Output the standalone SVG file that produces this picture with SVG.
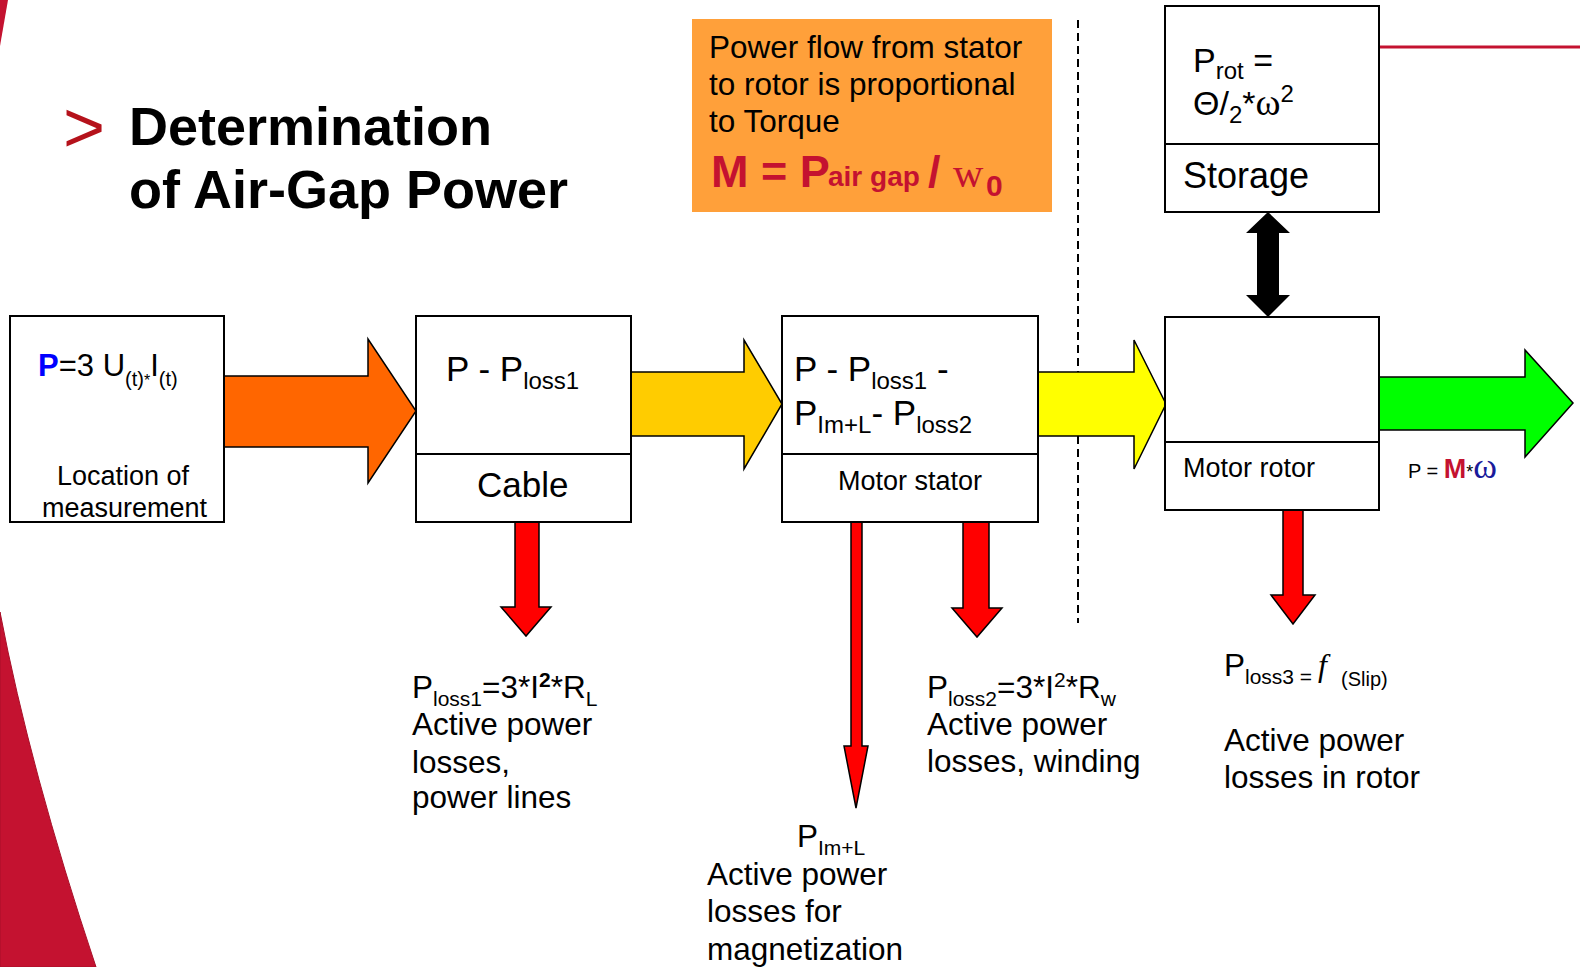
<svg xmlns="http://www.w3.org/2000/svg" width="1580" height="967" viewBox="0 0 1580 967">
<style>
text{font-family:"Liberation Sans",Arial,sans-serif;fill:#000}
.b{font-weight:bold}
.serif{font-family:"Liberation Serif","Times New Roman",serif}
.box{fill:#fff;stroke:#000;stroke-width:2}
.div{stroke:#000;stroke-width:2}
.arr{stroke:#000;stroke-width:1.5;stroke-linejoin:miter}
.red{fill:#FF0000}
.crim{fill:#C41230}
</style>
<rect width="1580" height="967" fill="#fff"/>
<!-- decorative swooshes -->
<path d="M0,0 L8,0 L0,46 Z" fill="#C41230"/>
<path d="M0,612 Q30,770 96,967 L0,967 Z" fill="#C41230" stroke="#A80F28" stroke-width="1"/>
<line x1="1379" y1="47" x2="1580" y2="47" stroke="#C41230" stroke-width="3"/>

<!-- title -->
<g id="title">
<text x="63" y="152" font-size="72" style="fill:#B5121B">&gt;</text>
<text class="b" x="129" y="145" font-size="54">Determination</text>
<text class="b" x="129" y="208" font-size="54">of Air-Gap Power</text>
</g>

<!-- orange note -->
<g id="note">
<rect x="692" y="19" width="360" height="193" fill="#FFA03A"/>
<text x="709" y="58" font-size="31.5">Power flow from stator</text>
<text x="709" y="95" font-size="31.5">to rotor is proportional</text>
<text x="709" y="132" font-size="31.5">to Torque</text>
<text class="b crim" x="711" y="187" font-size="45">M = P</text>
<text class="b crim" x="828" y="186" font-size="28">air gap</text>
<text class="b crim" x="928" y="187" font-size="45">/</text>
<text class="serif crim" x="953" y="187" font-size="42">w</text>
<text class="b crim" x="986" y="196" font-size="30">0</text>
</g>

<!-- dashed separator -->
<line x1="1078" y1="20" x2="1078" y2="623" stroke="#000" stroke-width="2" stroke-dasharray="8 5"/>

<!-- connectors -->
<g id="connectors">
<polygon class="arr" fill="#FF6600" points="224,376 368,376 368,339 416,411 368,483 368,447 224,447"/>
<polygon class="arr" fill="#FFCC00" points="631,372 744,372 744,340 782,404 744,469 744,436 631,436"/>
<polygon class="arr" fill="#FFFF00" points="1038,372 1134,372 1134,340 1166,404 1134,469 1134,436 1038,436"/>
<polygon class="arr" fill="#00FF00" points="1379,377 1525,377 1525,350 1573,403 1525,457 1525,430 1379,430"/>
<polygon class="arr red" points="515,522 539,522 539,607 551,607 526,636 501,607 515,607"/>
<polygon class="arr red" points="851,522 862,522 862,746 868,746 856,808 844,746 851,746"/>
<polygon class="arr red" points="963,522 989,522 989,608 1002,608 977,637 952,608 963,608"/>
<polygon class="arr red" points="1283,510 1303,510 1303,595 1315,595 1293,624 1271,595 1283,595"/>
<polygon fill="#000" points="1268,212 1290,233 1279,233 1279,295 1290,295 1268,317 1246,295 1257,295 1257,233 1246,233"/>
</g>

<!-- measurement -->
<g id="measurement">
<rect class="box" x="10" y="316" width="214" height="206"/>
<text x="38" y="376" font-size="31"><tspan class="b" style="fill:#0000FF">P</tspan>=3 U<tspan font-size="20" dy="10">(t)</tspan><tspan font-size="16">*</tspan><tspan dy="-10">I</tspan><tspan font-size="20" dy="10">(t)</tspan></text>
<text x="57" y="485" font-size="27">Location of</text>
<text x="42" y="517" font-size="27">measurement</text>
</g>

<!-- cable -->
<g id="cable">
<rect class="box" x="416" y="316" width="215" height="206"/>
<line class="div" x1="416" y1="454" x2="631" y2="454"/>
<text x="446" y="381" font-size="35">P - P<tspan font-size="24" dy="8">loss1</tspan></text>
<text x="477" y="497" font-size="35">Cable</text>
</g>

<!-- stator -->
<g id="stator">
<rect class="box" x="782" y="316" width="256" height="206"/>
<line class="div" x1="782" y1="454" x2="1038" y2="454"/>
<text x="794" y="381" font-size="35">P - P<tspan font-size="24" dy="8">loss1</tspan><tspan dy="-8"> -</tspan></text>
<text x="794" y="425" font-size="35">P<tspan font-size="24" dy="8">Im+L</tspan><tspan dy="-8">- P</tspan><tspan font-size="24" dy="8">loss2</tspan></text>
<text x="838" y="490" font-size="27">Motor stator</text>
</g>

<!-- storage -->
<g id="storage">
<rect class="box" x="1165" y="6" width="214" height="206"/>
<line class="div" x1="1165" y1="144" x2="1379" y2="144"/>
<text x="1193" y="72" font-size="34">P<tspan font-size="24" dy="7">rot</tspan><tspan dy="-7"> =</tspan></text>
<text x="1193" y="115" font-size="34">Θ/<tspan font-size="24" dy="8">2</tspan><tspan dy="-8">*</tspan><tspan class="serif" font-size="38">ω</tspan><tspan font-size="24" dy="-13">2</tspan></text>
<text x="1183" y="188" font-size="36">Storage</text>
</g>

<!-- rotor -->
<g id="rotor">
<rect class="box" x="1165" y="317" width="214" height="193"/>
<line class="div" x1="1165" y1="442" x2="1379" y2="442"/>
<text x="1183" y="477" font-size="27">Motor rotor</text>
</g>

<!-- output label -->
<g id="output-label">
<text x="1408" y="478" font-size="20">P = <tspan class="b crim" font-size="27">M</tspan><tspan font-size="18">*</tspan><tspan class="serif" font-size="36" style="fill:#1A1A9A">ω</tspan></text>
</g>

<!-- loss labels -->
<g id="loss1">
<text x="412" y="698" font-size="31.5">P<tspan font-size="21" dy="8">loss1</tspan><tspan dy="-8">=3*I</tspan><tspan class="b" font-size="21" dy="-11">2</tspan><tspan dy="11">*R</tspan><tspan font-size="21" dy="8">L</tspan></text>
<text x="412" y="735" font-size="31.5">Active power</text>
<text x="412" y="773" font-size="31.5">losses,</text>
<text x="412" y="808" font-size="31.5">power lines</text>
</g>
<g id="loss-mag">
<text x="797" y="847" font-size="31.5">P<tspan font-size="21" dy="8">Im+L</tspan></text>
<text x="707" y="885" font-size="31.5">Active power</text>
<text x="707" y="922" font-size="31.5">losses for</text>
<text x="707" y="960" font-size="31.5">magnetization</text>
</g>
<g id="loss2">
<text x="927" y="698" font-size="31.5">P<tspan font-size="21" dy="8">loss2</tspan><tspan dy="-8">=3*I</tspan><tspan font-size="21" dy="-11">2</tspan><tspan dy="11">*R</tspan><tspan font-size="21" dy="8">w</tspan></text>
<text x="927" y="735" font-size="31.5">Active power</text>
<text x="927" y="772" font-size="31.5">losses, winding</text>
</g>
<g id="loss3">
<text x="1224" y="676" font-size="31.5">P<tspan font-size="21" dy="8">loss3 = </tspan><tspan class="serif" font-style="italic" font-size="32" dy="-8">f</tspan></text>
<text x="1341" y="686" font-size="20">(Slip)</text>
<text x="1224" y="751" font-size="31.5">Active power</text>
<text x="1224" y="788" font-size="31.5">losses in rotor</text>
</g>
</svg>
